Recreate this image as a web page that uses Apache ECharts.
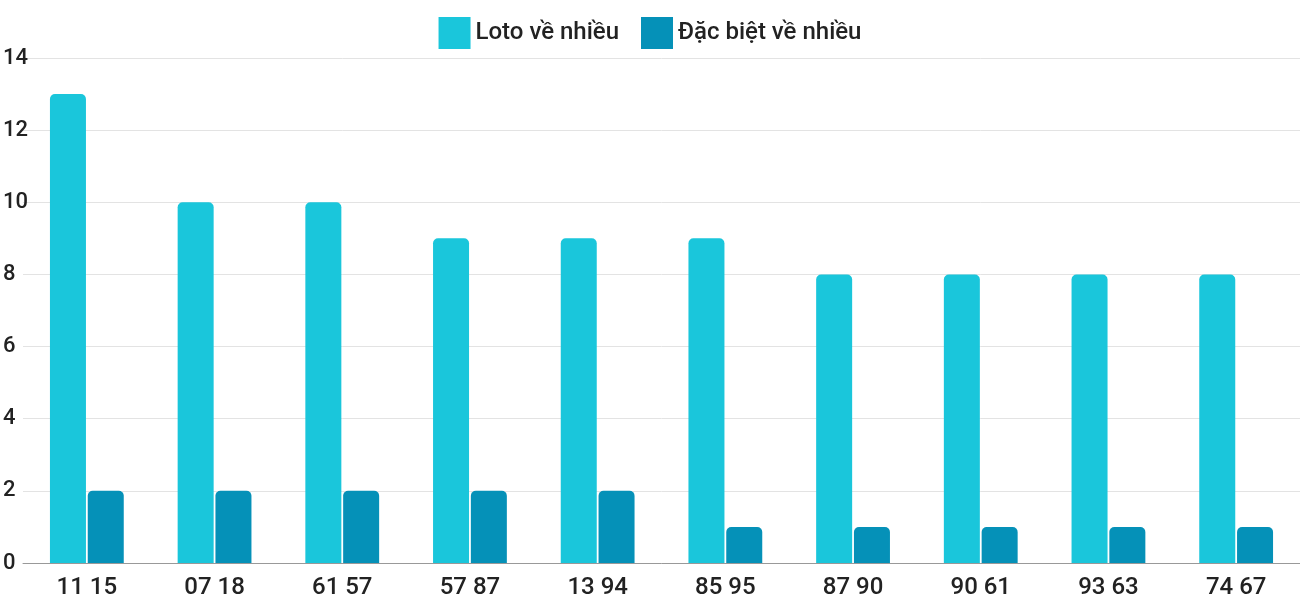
<!DOCTYPE html>
<html>
<head>
<meta charset="utf-8">
<script src="https://cdn.jsdelivr.net/npm/echarts@6/dist/echarts.min.js"></script>
<style>html,body{margin:0;padding:0;background:#fff}#main{width:1300px;height:600px}</style>
</head>
<body>
<div id="main"></div>
<script>
var categories = ['11 15', '07 18', '61 57', '57 87', '13 94', '85 95', '87 90', '90 61', '93 63', '74 67'];
var lotoValues = [13, 10, 10, 9, 9, 9, 8, 8, 8, 8];
var dbValues = [2, 2, 2, 2, 2, 1, 1, 1, 1, 1];
var seriesNames = ['Loto về nhiều', 'Đặc biệt về nhiều'];

var chart = echarts.init(document.getElementById('main'));
var option = {
  animation: false,
  textStyle: { fontFamily: 'Roboto' },
  legend: {
    top: 12,
    itemWidth: 32,
    itemHeight: 32,
    itemGap: 22,
    icon: 'rect',
    textStyle: { fontSize: 24, fontWeight: 500, color: '#222', fontFamily: 'Roboto' },
    data: seriesNames
  },
  grid: { left: 19.5, width: 1310, top: 58, bottom: 35, containLabel: false },
  xAxis: {
    type: 'category',
    data: categories,
    axisTick: { show: false },
    axisLine: { lineStyle: { color: '#999' } },
    axisLabel: { fontSize: 24, fontWeight: 500, color: '#222', margin: 13 }
  },
  yAxis: {
    type: 'value',
    min: 0, max: 14, interval: 2,
    axisLabel: { fontSize: 22, fontWeight: 500, color: '#222', align: 'left', margin: 20 },
    splitLine: { lineStyle: { color: '#e3e3e3' } }
  },
  series: [{
    name: seriesNames[0],
    type: 'bar',
    data: lotoValues,
    barWidth: 36,
    barGap: '5%',
    itemStyle: { color: '#1ac6db', borderRadius: [5, 5, 0, 0] }
  }, {
    name: seriesNames[1],
    type: 'bar',
    data: dbValues,
    barWidth: 36,
    itemStyle: { color: '#0591b8', borderRadius: [5, 5, 0, 0] }
  }]
};
chart.setOption(option);
</script>
</body>
</html>
